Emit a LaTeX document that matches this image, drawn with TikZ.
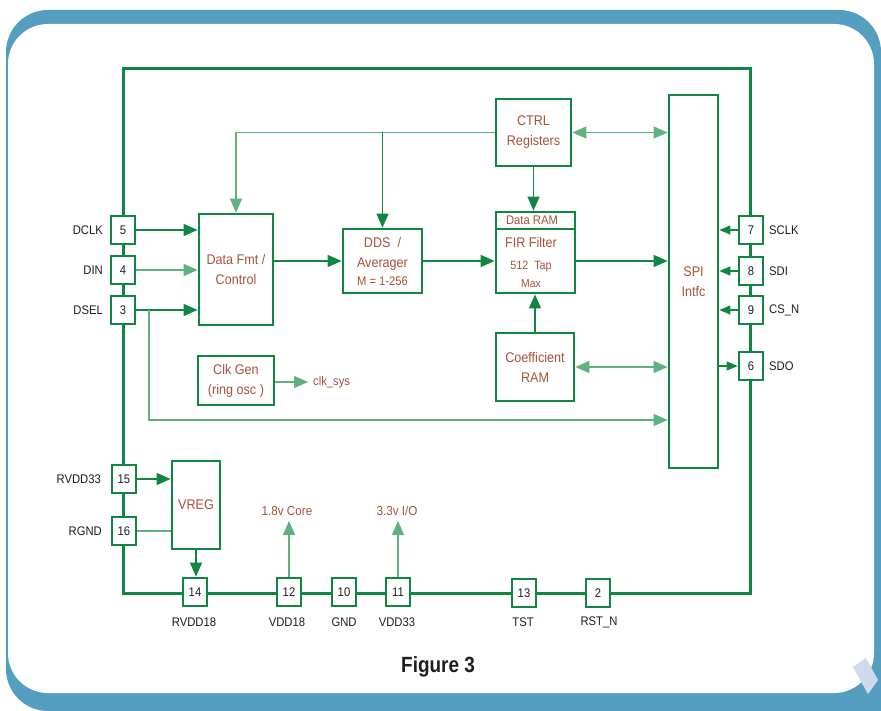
\documentclass[tikz,border=0pt]{standalone}
\usepackage{fontspec}
\setmainfont{Liberation Sans}
\newfontfamily\cf{Liberation Sans}[FakeStretch=0.9]
\newfontfamily\ff{Liberation Sans Bold}[FakeStretch=0.86]
\usetikzlibrary{arrows.meta}
\definecolor{gr}{RGB}{16,134,66}
\definecolor{lgr}{RGB}{95,178,128}
\definecolor{txt}{RGB}{168,82,58}
\definecolor{bgb}{RGB}{84,158,192}
\definecolor{lav}{RGB}{206,218,238}
\definecolor{lbl}{RGB}{30,30,30}
\tikzset{
  blk/.style 2 args={draw=gr,line width=2.8pt,fill=white,inner sep=0pt,
    minimum width=#1,minimum height=#2,font=\cf\fontsize{14}{20}\selectfont,
    text=txt,align=center},
  pinbox/.style={draw=gr,line width=2.8pt,fill=white,minimum width=24pt,
    minimum height=28pt,inner sep=0pt,font=\cf\fontsize{12.5}{14}\selectfont,text=lbl},
  lab/.style={font=\cf\fontsize{12.5}{14}\selectfont,text=lbl,inner sep=0pt},
  rtxt/.style={font=\cf\fontsize{#1}{#1}\selectfont,text=txt,inner sep=0pt},
  conn/.style={draw=gr,line width=1.3pt},
  lconn/.style={draw=lgr,line width=1.3pt},
  arr/.style={-{Triangle[length=14pt,width=12pt]}},
  sarr/.style={-{Triangle[length=11pt,width=9pt]}},
  darr/.style={{Triangle[length=14pt,width=12pt]}-{Triangle[length=14pt,width=12pt]}},
}
\begin{document}
\begin{tikzpicture}[x=1pt,y=-1pt]
\useasboundingbox (0,0) rectangle (881,711);
% background frame
\begin{scope}
\clip (0,0) rectangle (881,711);
\fill[bgb,rounded corners=42pt] (6,10) rectangle (881,711);
\fill[bgb] (800,650) rectangle (881,711);
\fill[white,rounded corners=40pt] (8,24) rectangle (874,693);
\fill[lav] (853,667) -- (866,658) -- (878,680) -- (868,694) -- cycle;
\end{scope}

% outer chip frame
\draw[gr,line width=3pt] (123,69) rectangle (750,593);

% blocks
\node[blk={74pt}{111pt}] (datafmt) at (236,269.5) {Data Fmt /\\Control};
\node[blk={79pt}{64pt}] (dds) at (382.5,261) {DDS \ /\\Averager\\[-2pt]{\fontsize{12.5}{12}\selectfont M = 1-256}};
\node[blk={79pt}{81pt}] (fir) at (535.5,252.5) {};
\draw[gr,line width=2.8pt] (fir.west |- 0,229) -- (fir.east |- 0,229);
\node[rtxt=12.5] (firram) at (532,220.5) {Data RAM};
\node[rtxt=14] (firname) at (531,242) {FIR Filter};
\node[rtxt=12] (firtap) at (531,267) {512 \ Tap};
\node[rtxt=11.5] (firmax) at (531,284) {Max};
\node[blk={75pt}{67pt}] (ctrl) at (533.5,132.5) {CTRL\\Registers};
\node[blk={49pt}{373pt}] (spi) at (693.5,281.5) {SPI\\Intfc};
\node[blk={78pt}{68pt}] (coef) at (535,367) {Coefficient\\RAM};
\node[blk={76pt}{49pt}] (clkgen) at (236,380.5) {Clk Gen\\(ring osc )};
\node[blk={48pt}{88pt}] (vreg) at (196,505) {VREG};

% pins
\node[pinbox] (p5) at (123,230) {5};
\node[pinbox] (p4) at (123,270) {4};
\node[pinbox] (p3) at (123,310) {3};
\node[pinbox] (p15) at (124,479) {15};
\node[pinbox] (p16) at (124,531) {16};
\node[pinbox] (p14) at (195,592) {14};
\node[pinbox] (p12) at (289,592) {12};
\node[pinbox] (p10) at (344,592) {10};
\node[pinbox] (p11) at (398,592) {11};
\node[pinbox] (p13) at (524,593) {13};
\node[pinbox] (p2) at (598,593) {2};
\node[pinbox] (p7) at (751,230) {7};
\node[pinbox] (p8) at (751,271) {8};
\node[pinbox] (p9) at (751,310) {9};
\node[pinbox] (p6) at (751,366) {6};

% pin labels
\node[lab,anchor=east] (lDCLK) at (103,230) {DCLK};
\node[lab,anchor=east] (lDIN) at (103,270) {DIN};
\node[lab,anchor=east] (lDSEL) at (103,310) {DSEL};
\node[lab,anchor=east] (lRVDD33) at (101,479) {RVDD33};
\node[lab,anchor=east] (lRGND) at (102,531) {RGND};
\node[lab] (lRVDD18) at (194,622) {RVDD18};
\node[lab] (lVDD18) at (287,622) {VDD18};
\node[lab] (lGND) at (344,622) {GND};
\node[lab] (lVDD33) at (397,622) {VDD33};
\node[lab] (lTST) at (523,622) {TST};
\node[lab] (lRST) at (599,622) {RST\_N};
\node[lab,anchor=west] (lSCLK) at (769,230) {SCLK};
\node[lab,anchor=west] (lSDI) at (769,271) {SDI};
\node[lab,anchor=west] (lCSN) at (769,310) {CS\_N};
\node[lab,anchor=west] (lSDO) at (769,366) {SDO};

% other texts
\node[rtxt=12.5,anchor=west] (clksys) at (313,382) {clk\_sys};
\node[rtxt=13] (core) at (287,511) {1.8v Core};
\node[rtxt=13] (io) at (397,511) {3.3v I/O};
\node[font=\ff\fontsize{22}{24}\selectfont,text=lbl,inner sep=0pt] (fig) at (438,667) {Figure 3};

% connectors
\draw[conn,arr] (p5.east) -- (p5.east -| datafmt.west);
\draw[lconn,arr] (p4.east) -- (p4.east -| datafmt.west);
\draw[conn,arr] (p3.east) -- (p3.east -| datafmt.west);
\coordinate (b1) at (149,310);
\coordinate (b2) at (149,420);
\draw[lconn,arr] (b1) -- (b2) -- (b2 -| spi.west);
\draw[conn,arr] (datafmt.east |- dds.west) -- (dds.west);
\draw[conn,arr] (dds.east) -- (dds.east -| fir.west);
\draw[conn,arr] (fir.east |- dds.east) -- (spi.west |- dds.east);
\draw[lconn,darr] (ctrl.east) -- (ctrl.east -| spi.west);
\draw[conn,arr] (ctrl.south) -- (ctrl.south |- fir.north);
\draw[lconn,arr] (ctrl.west) -| (datafmt.north);
\draw[conn,arr] (ctrl.west -| dds.north) -- (dds.north);
\draw[conn,arr] (coef.north) -- (coef.north |- fir.south);
\draw[lconn,darr] (coef.east) -- (coef.east -| spi.west);
\draw[lconn,arr] (clkgen.east |- clksys.west) -- ([xshift=-5pt]clksys.west);
\draw[conn,sarr] (p7.west) -- (p7.west -| spi.east);
\draw[conn,sarr] (p8.west) -- (p8.west -| spi.east);
\draw[conn,sarr] (p9.west) -- (p9.west -| spi.east);
\draw[conn,sarr] (p6.west -| spi.east) -- (p6.west);
\draw[conn,arr] (p15.east) -- (p15.east -| vreg.west);
\draw[lconn] (p16.east) -- (p16.east -| vreg.west);
\draw[conn,arr] (vreg.south) -- (vreg.south |- p14.north);
\coordinate (t12) at (289,521);
\coordinate (t11) at (398,521);
\draw[lconn,arr] (p12.north) -- (t12);
\draw[lconn,arr] (p11.north) -- (t11);
\end{tikzpicture}
\end{document}
